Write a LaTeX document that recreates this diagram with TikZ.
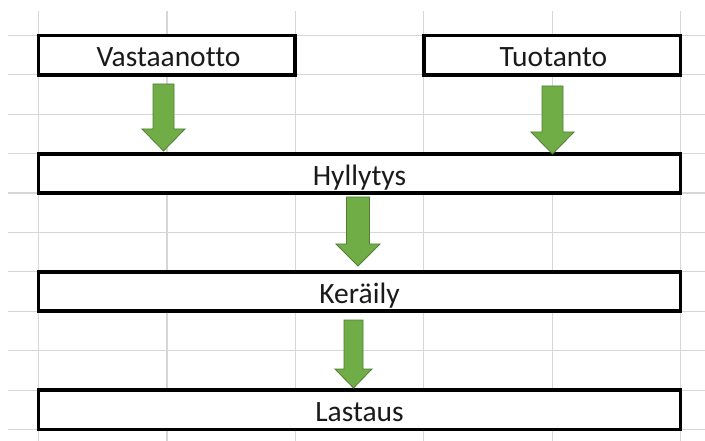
\documentclass[tikz,border=0pt]{standalone}
\usepackage{fontspec}
\setmainfont[Ligatures={NoCommon,NoRequired}]{Carlito}
\usetikzlibrary{calc}
\definecolor{gridgray}{HTML}{D6D6D6}
\definecolor{arrowfill}{HTML}{70AD47}
\definecolor{arrowline}{HTML}{507E32}
\definecolor{textcol}{HTML}{1A1A1A}
% block arrow pointing down: centre x, top y, tip y, shaft width, head width, head length
\newcommand{\DownBlock}[6]{%
  \filldraw[blockarrow]
    ({#1-#4/2},#2) -- ({#1+#4/2},#2) -- ({#1+#4/2},{#3-#6}) -- ({#1+#5/2},{#3-#6})
    -- (#1,#3) -- ({#1-#5/2},{#3-#6}) -- ({#1-#4/2},{#3-#6}) -- cycle;}
\begin{document}
\begin{tikzpicture}[x=1pt,y=-1pt,
  gridline/.style={draw=gridgray,line width=1.2pt},
  stagebox/.style={draw=black,fill=white,line width=3.7pt,inner sep=0pt},
  stagetext/.style={anchor=base,text=textcol,inner sep=0pt,
    font=\fontsize{29.5}{30}\selectfont},
  blockarrow/.style={fill=arrowfill,draw=arrowline,line width=0.8pt,line join=miter}]
\useasboundingbox[fill=white] (0,0) rectangle (705,441);
% spreadsheet grid
\foreach \i in {0,...,10}
  \draw[gridline] (8,{35.5+39.4*\i}) -- (705,{35.5+39.4*\i});
\foreach \j in {0,...,5}
  \draw[gridline] ({38.5+128.4*\j},11) -- ({38.5+128.4*\j},441);
% stage boxes
\path[stagebox] (38.5,35.5) rectangle (295.3,74.9) node[midway,inner sep=0pt] (vbox) {};
\path[stagebox] (423.7,35.5) rectangle (680.5,74.9) node[midway,inner sep=0pt] (tbox) {};
\path[stagebox] (38.5,153.7) rectangle (680.5,193.1) node[midway,inner sep=0pt] (hbox) {};
\path[stagebox] (38.5,271.9) rectangle (680.5,311.3) node[midway,inner sep=0pt] (kbox) {};
\path[stagebox] (38.5,390.1) rectangle (680.5,429.5) node[midway,inner sep=0pt] (lbox) {};
% labels
\node[stagetext] (vtext) at (168.5,66.9) {Vastaanotto};
\node[stagetext] (ttext) at (553.5,66.9) {Tuotanto};
\node[stagetext] (htext) at (359.5,185.1) {Hyllytys};
\node[stagetext] (ktext) at (359.5,303.3) {Keräily};
\node[stagetext] (ltext) at (359.5,421.5) {Lastaus};
% flow arrows
\DownBlock{163.5}{84}{151}{21}{43}{22}
\DownBlock{552.5}{86}{154}{21}{43}{22}
\DownBlock{358}{197}{266}{23}{44}{22}
\DownBlock{353.5}{320}{388}{19}{37}{19}
\end{tikzpicture}
\end{document}
